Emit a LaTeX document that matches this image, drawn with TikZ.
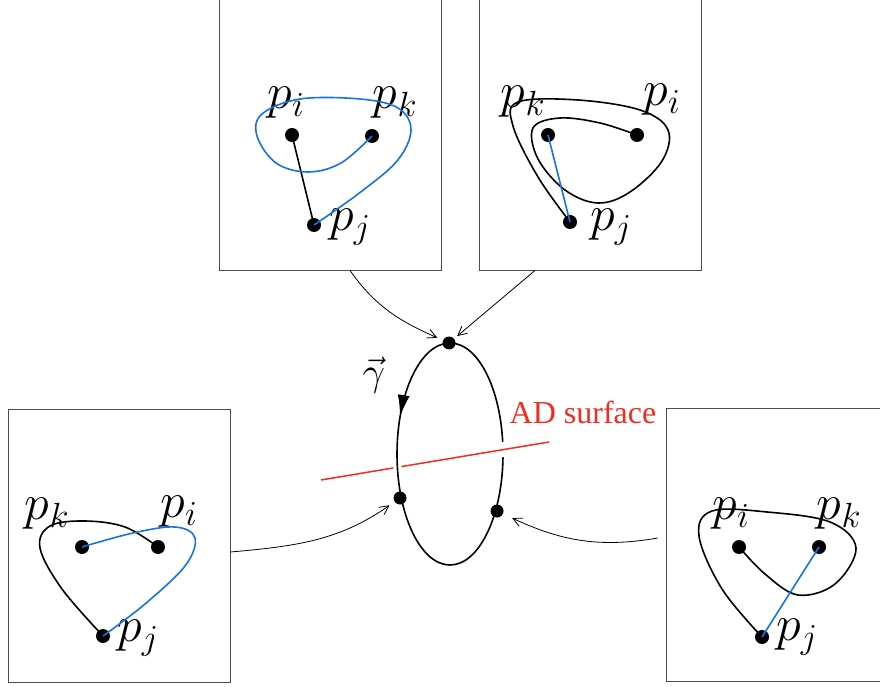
\RequirePackage{fix-cm}
\documentclass[tikz,border=0pt]{standalone}
\usepackage{fontspec}
\setmainfont{Liberation Serif}
\usepackage{amsmath}
\usetikzlibrary{positioning, arrows.meta, decorations.markings}
\definecolor{curveblue}{RGB}{20,115,230}
\definecolor{adred}{RGB}{240,45,30}
\tikzset{
    panel/.style = {rectangle, draw=black!70, line width=0.9pt, minimum width=222pt,
                        minimum height=273pt, inner sep=0pt},
    vertex/.style = {circle, fill=black, minimum size=14pt, inner sep=0pt},
    plabel/.style = {inner sep=0pt, font=\fontsize{50}{60}\selectfont},
    loopline/.style = {line width=1.6pt, line join=round},
    adline/.style = {adred, line width=1.5pt},
    map/.style = {line width=0.8pt, -{Straight Barb[length=9pt, width=9pt]}}
}

\begin{document}
\begin{tikzpicture}[x=1pt, y=1pt]
		\useasboundingbox (0,0) rectangle (880,686);
		% four panels
		\node (tl) [panel] at (330,552.5) {};
		\node (tr) [panel] at (590,552.5) {};
		\node (bl) [panel] at (119,140.5) {};
		\node (br) [panel] at (777,141) {};
		% top left
		\node (tl-i) [vertex] at (292,551) {};
		\node (tl-k) [vertex] at (372,550) {};
		\node (tl-j) [vertex] at (314,461) {};
		\node (tl-li) [plabel] at (286,583) {$p_i$};
		\node (tl-lk) [plabel] at (395,583) {$p_k$};
		\node (tl-lj) [plabel] at (350,459) {$p_j$};
		\draw [loopline] (tl-i.center) -- (tl-j.center);
		\draw [loopline, curveblue] plot [smooth, tension=0.6] coordinates {(tl-j.center) (358,492) (397,525) (411,556) (398,578) (360,587) (300,587) (262,572) (257,550) (276,523) (308,514) (341,523) (tl-k.center)};
		% top right
		\node (tr-k) [vertex] at (548,551) {};
		\node (tr-i) [vertex] at (637,551) {};
		\node (tr-j) [vertex] at (570,464) {};
		\node (tr-lk) [plabel] at (523,584) {$p_k$};
		\node (tr-li) [plabel] at (662,586) {$p_i$};
		\node (tr-lj) [plabel] at (611,459) {$p_j$};
		\draw [loopline] plot [smooth, tension=0.6] coordinates {(tr-j.center) (538,509) (513,560) (518,584) (578,586) (640,576) (668,556) (662,525) (630,494) (598,483) (565,496) (538,527) (533,558) (560,568) (600,563) (tr-i.center)};
		\draw [loopline, curveblue] (tr-k.center) -- (tr-j.center);
		% bottom left
		\node (bl-k) [vertex] at (82,139) {};
		\node (bl-i) [vertex] at (158,139) {};
		\node (bl-j) [vertex] at (103,50) {};
		\node (bl-lk) [plabel] at (47,172) {$p_k$};
		\node (bl-li) [plabel] at (179,174) {$p_i$};
		\node (bl-lj) [plabel] at (138,48) {$p_j$};
		\draw [loopline] plot [smooth, tension=0.6] coordinates {(bl-j.center) (62,97) (40,138) (50,160) (85,165) (125,159) (bl-i.center)};
		\draw [loopline, curveblue] plot [smooth, tension=0.6] coordinates {(bl-k.center) (133,153) (175,159) (195,148) (185,120) (145,82) (bl-j.center)};
		% bottom right
		\node (br-i) [vertex] at (739,139) {};
		\node (br-k) [vertex] at (819,139) {};
		\node (br-j) [vertex] at (762,49) {};
		\node (br-li) [plabel] at (731,172) {$p_i$};
		\node (br-lk) [plabel] at (839,172) {$p_k$};
		\node (br-lj) [plabel] at (797,49) {$p_j$};
		\draw [loopline] plot [smooth, tension=0.6] coordinates {(br-j.center) (722,97) (699,150) (712,175) (767,174) (830,164) (856,138) (835,102) (798,91) (765,112) (br-i.center)};
		\draw [loopline, curveblue] (br-k.center) -- (br-j.center);
		% loop and AD surface
		\draw [adline] (321,206) -- (549,244);
		\draw [loopline, preaction={draw=white, line width=8pt},
			postaction={decorate}, decoration={markings, mark=at position 0.43 with {\arrow{Latex[length=22pt, width=12pt]}}}]
			(450,232) ellipse [x radius=53, y radius=111];
		\draw [adline, preaction={draw=white, line width=15pt}] (480,232.5) -- (549,244);
		\node (ct) [vertex, minimum size=13pt] at (449,343) {};
		\node (cl) [vertex, minimum size=13pt] at (400,188) {};
		\node (cr) [vertex, minimum size=13pt] at (497,175) {};
		\node (gamma) [inner sep=0pt, font=\fontsize{40}{48}\selectfont] at (374,311) {$\vec{\gamma}$};
		\node (ad) [inner sep=0pt, text=adred, font=\fontsize{32}{38}\selectfont] at (583,274) {AD surface};
		% maps to the loop
		\draw [map, shorten >=6pt] ([xshift=20pt]tl.south) to [out=-55, in=156] (ct);
		\draw [map, shorten >=4pt] ([xshift=-55pt]tr.south) -- (ct);
		\draw [map, shorten >=6pt] ([yshift=-6.5pt]bl.east) to [out=5, in=215] (cl);
		\draw [map, shorten >=10pt] ([xshift=-8pt, yshift=7pt]br.west) to [out=190, in=-25] (cr);
	\end{tikzpicture}
\end{document}
